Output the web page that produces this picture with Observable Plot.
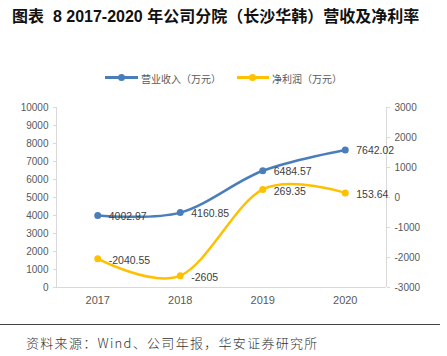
<!DOCTYPE html>
<html><head><meta charset="utf-8">
<script src="https://cdn.jsdelivr.net/npm/d3@7"></script>
<script src="https://cdn.jsdelivr.net/npm/@observablehq/plot@0.6"></script>
<style>
body{margin:0;background:#fff;width:447px;height:356px;position:relative;overflow:hidden;font-family:"Liberation Sans","Noto Sans CJK SC",sans-serif;}
#title{position:absolute;left:12px;top:3px;font-size:16px;font-weight:bold;color:#111;white-space:nowrap;font-family:"Liberation Sans","Noto Sans CJK SC",sans-serif;}
.leg{position:absolute;top:71px;font-size:10px;color:#595959;white-space:nowrap;font-family:"Noto Sans CJK SC",sans-serif;}
.sw{position:absolute;height:3px;top:76px;}
.dot{position:absolute;width:7px;height:7px;border-radius:50%;top:74px;}
#chart{position:absolute;left:0;top:90px;}
#rule{position:absolute;left:0;top:324px;width:440px;height:0;border-top:1.5px solid #444;}
#src{position:absolute;left:26px;top:333px;font-size:13px;color:#333;letter-spacing:1.3px;white-space:nowrap;font-family:"Noto Sans CJK SC","Liberation Sans",sans-serif;font-weight:300;}
</style></head>
<body>
<div id="title">图表&nbsp; 8 2017-2020 年公司分院（长沙华韩）营收及净利率</div>
<div class="sw" style="left:105px;width:33px;background:#4a7ebb"></div>
<div class="dot" style="left:118px;background:#4a7ebb"></div>
<div class="leg" style="left:141px">营业收入（万元）</div>
<div class="sw" style="left:237px;width:32px;background:#ffc000"></div>
<div class="dot" style="left:249px;background:#ffc000"></div>
<div class="leg" style="left:272px">净利润（万元）</div>
<div id="chart"></div>
<div id="rule"></div>
<div id="src">资料来源：Wind、公司年报，华安证券研究所</div>
<script>
const years = [2017, 2018, 2019, 2020];
const revenue = [4002.97, 4160.85, 6484.57, 7642.02];
const profit = [-2040.55, -2605, 269.35, 153.64];
const leftTicks = [0,1000,2000,3000,4000,5000,6000,7000,8000,9000,10000];
const rightTicks = [-3000,-2000,-1000,0,1000,2000,3000];

const toLeft = d3.scaleLinear().domain([-3000, 3000]).range([0, 10000]);
const revData = years.map((y, i) => ({year: y, v: revenue[i], label: String(revenue[i])}));
const proData = years.map((y, i) => ({year: y, v: toLeft(profit[i]), label: String(profit[i])}));

const blue = "#4a7ebb", yellow = "#ffc000", axisCol = "#d9d9d9", txt = "#595959";

const chart = Plot.plot({
  width: 447, height: 220,
  marginLeft: 56, marginRight: 61, marginTop: 17, marginBottom: 23,
  style: {fontFamily: "Liberation Sans, sans-serif", fontSize: "10px", color: txt, background: "transparent"},
  x: {domain: [2016.5, 2020.5], axis: null, label: null},
  y: {domain: [0, 10000], axis: null, label: null},
  marks: [
    Plot.ruleX([2016.5, 2020.5], {y1: 0, y2: 10000, stroke: axisCol}),
    Plot.ruleY([0], {stroke: axisCol}),
    Plot.axisY({anchor: "left", label: null, ticks: leftTicks, tickFormat: d => String(d), tickSize: 3, tickPadding: 5, stroke: axisCol, color: txt, fontSize: 10}),
    Plot.axisY({anchor: "right", label: null, ticks: rightTicks.map(v => toLeft(v)), tickFormat: d => String(Math.round(toLeft.invert(d))), tickSize: 3, tickPadding: 5, stroke: axisCol, color: txt, fontSize: 10}),
    Plot.axisX({label: null, ticks: years, tickFormat: d => String(d), tickSize: 0, tickPadding: 9, color: txt, fontSize: 11}),
    Plot.line(revData, {x: "year", y: "v", stroke: blue, strokeWidth: 2.5, curve: "cardinal", tension: 0}),
    Plot.dot(revData, {x: "year", y: "v", fill: blue, r: 3.5}),
    Plot.line(proData, {x: "year", y: "v", stroke: yellow, strokeWidth: 2.5, curve: "cardinal", tension: 0}),
    Plot.dot(proData, {x: "year", y: "v", fill: yellow, r: 3.5}),
    Plot.text(revData, {x: "year", y: "v", text: "label", textAnchor: "start", dx: 11, dy: 1, fill: "#404040", fontSize: 10.5}),
    Plot.text(proData, {x: "year", y: "v", text: "label", textAnchor: "start", dx: 11, dy: 2, fill: "#404040", fontSize: 10.5})
  ]
});
document.getElementById("chart").appendChild(chart);
</script>
</body></html>
